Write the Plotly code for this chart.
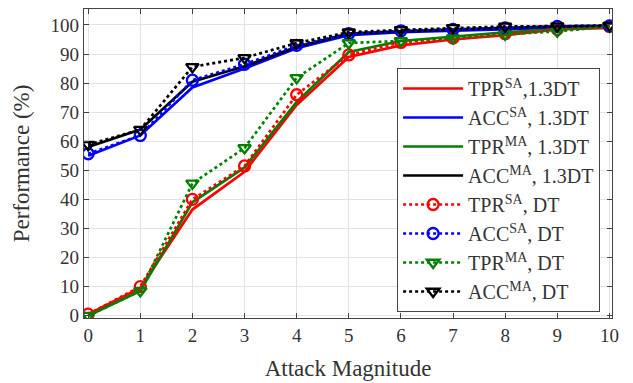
import plotly.graph_objects as go

x = [0, 1, 2, 3, 4, 5, 6, 7, 8, 9, 10]

tpr_sa_13 = [0.5, 9.5, 36.5, 49.5, 72.5, 89.0, 93.0, 95.0, 96.5, 98.5, 99.0]
acc_sa_13 = [55.0, 62.0, 78.5, 85.0, 92.0, 96.5, 97.5, 98.0, 98.5, 99.0, 99.5]
tpr_ma_13 = [0.0, 8.5, 39.0, 51.0, 73.5, 90.7, 94.5, 96.0, 97.5, 98.5, 99.5]
acc_ma_13 = [58.0, 64.0, 80.5, 85.8, 92.5, 97.0, 97.8, 98.5, 99.0, 99.5, 99.7]
tpr_sa_dt = [0.5, 10.0, 40.0, 51.5, 76.0, 89.7, 94.0, 95.5, 97.0, 98.5, 99.5]
acc_sa_dt = [55.7, 62.0, 81.0, 86.5, 93.0, 97.0, 98.0, 98.5, 99.0, 99.5, 99.7]
tpr_ma_dt = [0.0, 8.5, 45.5, 57.7, 81.8, 93.8, 94.5, 95.5, 96.8, 97.8, 99.5]
acc_ma_dt = [58.8, 64.0, 85.6, 88.7, 93.8, 97.5, 98.3, 99.0, 99.5, 99.6, 99.8]

names = ["TPR<sup>SA</sup>,1.3DT", "ACC<sup>SA</sup>, 1.3DT", "TPR<sup>MA</sup>, 1.3DT",
         "ACC<sup>MA</sup>, 1.3DT", "TPR<sup>SA</sup>, DT", "ACC<sup>SA</sup>, DT",
         "TPR<sup>MA</sup>, DT", "ACC<sup>MA</sup>, DT"]

xticks = list(range(0, 11))
yticks = list(range(0, 101, 10))

fig = go.Figure()
solid = [(tpr_sa_13, "#ff0000"), (acc_sa_13, "#0000ff"), (tpr_ma_13, "#008000"), (acc_ma_13, "#000000")]
for (ys, c), nm in zip(solid, names[:4]):
    fig.add_trace(go.Scatter(x=x, y=ys, name=nm, mode="lines",
                             line=dict(color=c, width=2.7)))
dotted = [(tpr_sa_dt, "#ff0000", "circle-open"), (acc_sa_dt, "#0000ff", "circle-open"),
          (tpr_ma_dt, "#008000", "triangle-down-open"), (acc_ma_dt, "#000000", "triangle-down-open")]
for (ys, c, sym), nm in zip(dotted, names[4:]):
    fig.add_trace(go.Scatter(x=x, y=ys, name=nm, mode="lines+markers",
                             line=dict(color=c, width=2.7, dash="dot"),
                             marker=dict(symbol=sym, size=11, color=c, line=dict(width=2.3, color=c))))

axis_common = dict(showline=True, linecolor="#444444", linewidth=1.2, mirror="ticks",
                   ticks="inside", ticklen=5, tickcolor="#444444", automargin=False,
                   showgrid=True, gridcolor="#e2e2e2", gridwidth=1, zeroline=False,
                   tickfont=dict(family="Liberation Serif", size=19, color="#333333"))

fig.update_layout(
    width=633, height=383,
    margin=dict(l=84, r=21, t=9, b=65),
    paper_bgcolor="white", plot_bgcolor="white",
    font=dict(family="Liberation Serif", color="#333333"),
    xaxis=dict(range=[-0.08, 10.05], tickvals=xticks, ticktext=[str(v) for v in xticks],
               title=dict(text="Attack Magnitude", font=dict(size=23, family="Liberation Serif", color="#333333"), standoff=14),
               **axis_common),
    yaxis=dict(range=[-0.8, 105.5], tickvals=yticks, ticktext=[str(v) for v in yticks],
               title=dict(text="Performance (%)", font=dict(size=23, family="Liberation Serif", color="#333333"), standoff=14),
               **axis_common),
    legend=dict(x=0.593, y=0.809, xanchor="left", yanchor="top",
                bgcolor="white", bordercolor="#444444", borderwidth=1,
                font=dict(family="Liberation Serif", size=20, color="#333333"),
                itemwidth=60, tracegroupgap=0),
    showlegend=True,
)

fig.write_html("out.html")
